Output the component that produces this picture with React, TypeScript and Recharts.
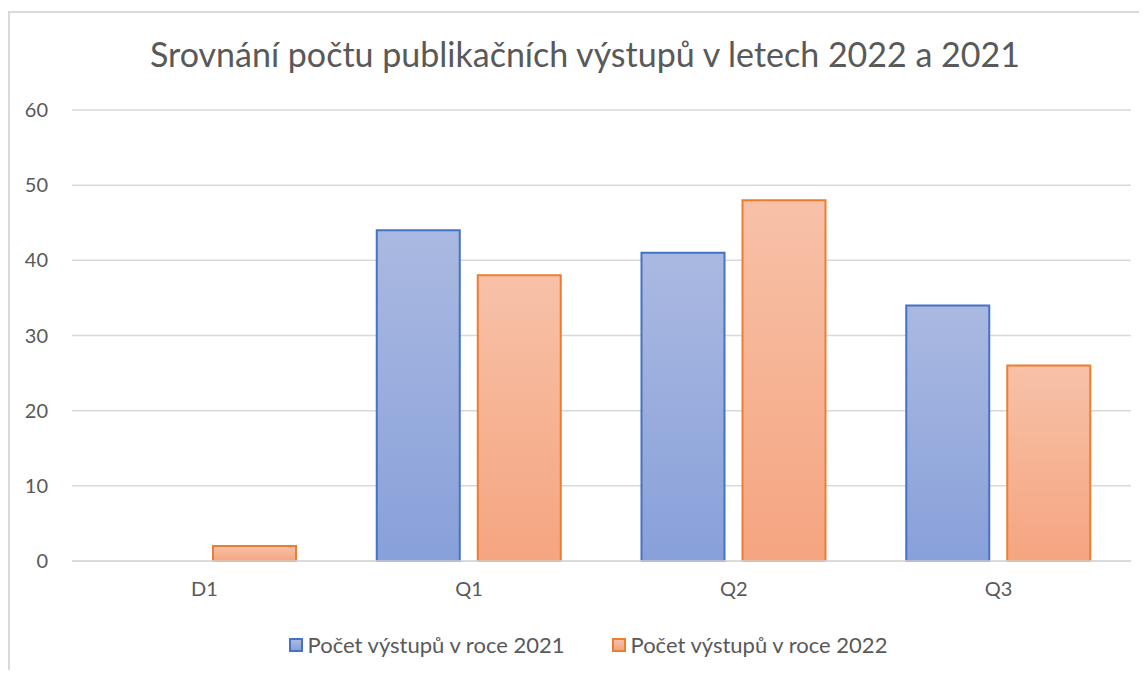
import React from 'react';
import { BarChart, Bar, XAxis, YAxis, CartesianGrid } from 'recharts';

const categories = ['D1', 'Q1', 'Q2', 'Q3'];
const values2021 = [0, 44, 41, 34];
const values2022 = [2, 38, 48, 26];
const yTicks = [0, 10, 20, 30, 40, 50, 60];

const TITLE = 'Srovnání počtu publikačních výstupů v letech 2022 a 2021';
const LABEL_2021 = 'Počet výstupů v roce 2021';
const LABEL_2022 = 'Počet výstupů v roce 2022';

const FONT = 'Lato, "Open Sans", sans-serif';
const TEXT_COLOR = '#595959';

const data = categories.map((name, i) => ({
  name,
  y2021: values2021[i],
  y2022: values2022[i]
}));

const LegendSwatch: React.FC<{ from: string; to: string; stroke: string }> = ({ from, to, stroke }) => (
  <span
    style={{
      display: 'inline-block',
      width: 10,
      height: 10,
      border: `2px solid ${stroke}`,
      background: `linear-gradient(${from}, ${to})`,
      marginRight: 5
    }}
  />
);

export default function App() {
  return (
    <div
      style={{
        position: 'relative',
        width: 1147,
        height: 678,
        margin: -8,
        overflow: 'hidden',
        background: '#fff',
        fontFamily: FONT
      }}
    >
      {/* chart frame, cropped on the right and bottom */}
      <div
        style={{
          position: 'absolute',
          left: 8,
          top: 11,
          width: 1200,
          height: 720,
          border: '2px solid #d9d9d9',
          boxSizing: 'border-box'
        }}
      />
      <div
        style={{
          position: 'absolute',
          left: 0,
          top: 30,
          width: 1170,
          textAlign: 'center',
          fontSize: 34,
          color: TEXT_COLOR,
          lineHeight: '48px'
        }}
      >
        {TITLE}
      </div>

      <div style={{ position: 'absolute', left: 0, top: 0 }}>
        <BarChart
          width={1147}
          height={678}
          data={data}
          margin={{ top: 110, right: 16, bottom: 0, left: 0 }}
          barCategoryGap={40}
          barGap={18}
        >
          <defs>
            <linearGradient id="grad2021" x1="0" y1="0" x2="0" y2="1">
              <stop offset="0%" stopColor="#aab9e1" />
              <stop offset="100%" stopColor="#88a0da" />
            </linearGradient>
            <linearGradient id="grad2022" x1="0" y1="0" x2="0" y2="1">
              <stop offset="0%" stopColor="#f7c1a8" />
              <stop offset="100%" stopColor="#f5a580" />
            </linearGradient>
          </defs>
          <CartesianGrid vertical={false} stroke="#d9d9d9" strokeWidth={1.5} />
          <XAxis
            dataKey="name"
            height={117}
            axisLine={{ stroke: '#d9d9d9', strokeWidth: 1.5 }}
            tickLine={false}
            tickSize={0}
            tickMargin={21}
            tick={{ fill: TEXT_COLOR, fontSize: 20, fontFamily: FONT }}
          />
          <YAxis
            width={72}
            domain={[0, 60]}
            ticks={yTicks}
            axisLine={false}
            tickLine={false}
            tickSize={0}
            tickMargin={24}
            tick={{ fill: TEXT_COLOR, fontSize: 20, fontFamily: FONT }}
          />
          <Bar
            dataKey="y2021"
            fill="url(#grad2021)"
            stroke="#4472c4"
            strokeWidth={2}
            isAnimationActive={false}
          />
          <Bar
            dataKey="y2022"
            fill="url(#grad2022)"
            stroke="#ed7d31"
            strokeWidth={2}
            isAnimationActive={false}
          />
        </BarChart>
      </div>

      <div
        style={{
          position: 'absolute',
          left: 0,
          top: 631,
          width: 1176,
          display: 'flex',
          justifyContent: 'center',
          alignItems: 'center',
          fontSize: 22,
          color: TEXT_COLOR,
          lineHeight: '28px'
        }}
      >
        <span style={{ display: 'inline-flex', alignItems: 'center', marginRight: 47 }}>
          <LegendSwatch from="#aab9e1" to="#88a0da" stroke="#4472c4" />
          {LABEL_2021}
        </span>
        <span style={{ display: 'inline-flex', alignItems: 'center' }}>
          <LegendSwatch from="#f7c1a8" to="#f5a580" stroke="#ed7d31" />
          {LABEL_2022}
        </span>
      </div>
    </div>
  );
}
